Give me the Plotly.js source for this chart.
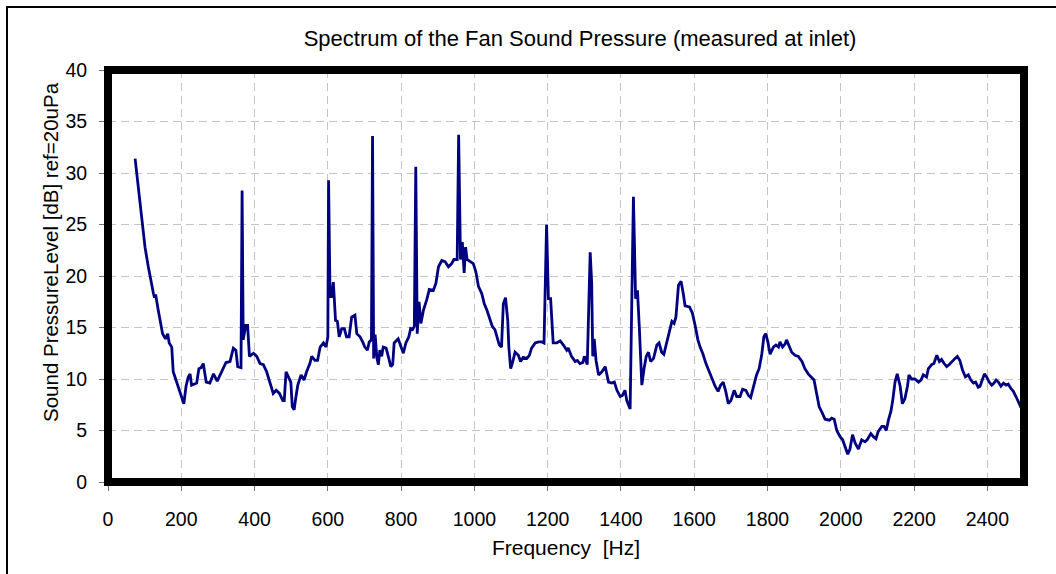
<!DOCTYPE html>
<html>
<head>
<meta charset="utf-8">
<script src="https://cdn.plot.ly/plotly-3.0.1.min.js"></script>
<style>
  html, body { margin: 0; padding: 0; background: #ffffff; }
  #chart { width: 1056px; height: 574px; }
</style>
</head>
<body>
<div id="chart"></div>
<script>
// Frequency [Hz]
var freq = [
  74, 83, 92, 101, 110, 116, 124, 127, 130, 137, 144, 149, 157, 163, 167, 174, 178, 188, 197, 207,
  213, 219, 224, 228, 242, 248, 254, 260, 268, 278, 288, 298, 310, 322, 333, 342, 349, 354, 363, 366,
  369, 376, 381, 386, 397, 406, 415, 424, 433, 442, 451, 459, 468, 477, 481, 486, 495, 499, 503, 508,
  513, 518, 527, 535, 542, 551, 556, 565, 572, 579, 588, 595, 600, 602, 606, 610, 615, 621, 626, 631,
  638, 645, 651, 658, 665, 674, 679, 688, 695, 701, 708, 713, 719, 722, 725, 729, 734, 738, 742, 747,
  751, 759, 765, 772, 777, 781, 792, 799, 806, 813, 821, 826, 831, 836, 840, 844, 849, 854, 861, 870,
  877, 888, 895, 902, 911, 920, 929, 938, 944, 953, 957, 962, 967, 972, 976, 980, 988, 997, 1004, 1011,
  1020, 1027, 1034, 1041, 1049, 1056, 1061, 1068, 1074, 1079, 1085, 1091, 1094, 1099, 1104, 1111, 1120, 1126, 1133, 1143,
  1150, 1156, 1166, 1175, 1184, 1190, 1197, 1202, 1208, 1215, 1225, 1234, 1243, 1252, 1256, 1265, 1275, 1281, 1288, 1296,
  1300, 1308, 1316, 1320, 1323, 1327, 1332, 1339, 1348, 1357, 1366, 1375, 1382, 1389, 1398, 1404, 1411, 1416, 1425, 1434,
  1440, 1445, 1450, 1457, 1463, 1469, 1475, 1481, 1489, 1498, 1504, 1511, 1517, 1525, 1532, 1539, 1545, 1550, 1557, 1564,
  1570, 1575, 1587, 1595, 1603, 1610, 1616, 1624, 1632, 1641, 1651, 1657, 1665, 1672, 1679, 1686, 1693, 1700, 1709, 1716,
  1725, 1732, 1741, 1748, 1754, 1761, 1770, 1777, 1784, 1790, 1795, 1801, 1807, 1816, 1823, 1830, 1834, 1841, 1848, 1852,
  1859, 1866, 1875, 1884, 1894, 1902, 1911, 1920, 1927, 1934, 1941, 1948, 1957, 1969, 1975, 1982, 1989, 1998, 2005, 2011,
  2019, 2025, 2032, 2039, 2048, 2057, 2066, 2072, 2082, 2089, 2096, 2102, 2112, 2118, 2124, 2130, 2137, 2142, 2148, 2154,
  2162, 2168, 2175, 2182, 2186, 2193, 2202, 2212, 2219, 2225, 2234, 2239, 2248, 2254, 2262, 2269, 2275, 2282, 2289, 2296,
  2305, 2312, 2318, 2325, 2332, 2340, 2348, 2355, 2362, 2368, 2375, 2380, 2386, 2392, 2398, 2405, 2412, 2418, 2424, 2430,
  2437, 2444, 2451, 2457, 2464, 2471, 2478, 2485, 2491, 2497, 2500
];
// Sound Pressure Level [dB] ref=20uPa
var spl = [
  31.4, 28.3, 25.8, 22.8, 20.9, 19.6, 18.3, 17.9, 18.2, 16.7, 15.4, 14.4, 13.9, 14.4, 13.5, 13.1, 10.7, 9.7, 8.8, 7.6,
  9.3, 10.2, 10.5, 9.4, 9.6, 11.0, 11.1, 11.5, 9.7, 9.6, 10.5, 9.8, 10.7, 11.6, 11.7, 13.0, 12.8, 11.2, 11.1, 28.3,
  13.8, 15.2, 15.2, 12.2, 12.5, 12.2, 11.5, 11.4, 10.7, 9.6, 8.6, 8.9, 8.6, 7.9, 7.9, 10.7, 10.1, 9.7, 7.3, 7.0,
  8.3, 9.4, 10.4, 9.9, 10.7, 11.5, 12.2, 11.8, 11.8, 13.1, 13.5, 13.1, 14.1, 29.3, 18.0, 18.0, 19.4, 15.7, 15.6, 14.1,
  14.9, 14.9, 14.1, 14.1, 16.0, 16.2, 14.4, 14.1, 13.6, 13.1, 12.8, 13.6, 13.8, 33.6, 12.0, 14.3, 12.0, 11.4, 12.8, 12.2,
  13.1, 13.0, 12.2, 11.2, 11.4, 13.5, 13.9, 13.1, 12.5, 13.5, 14.1, 14.9, 14.8, 15.1, 30.6, 14.4, 17.5, 15.4, 16.7, 17.7,
  18.7, 18.6, 19.3, 20.9, 21.5, 21.4, 20.9, 21.2, 21.6, 21.6, 33.7, 21.6, 23.3, 20.3, 22.8, 21.6, 21.4, 21.2, 20.4, 19.0,
  18.3, 17.3, 16.7, 15.9, 15.1, 14.8, 14.1, 13.3, 13.1, 17.3, 17.9, 15.7, 13.1, 11.0, 11.6, 12.6, 12.3, 11.7, 12.1, 12.0,
  12.3, 13.0, 13.5, 13.6, 13.6, 13.5, 25.0, 17.8, 17.8, 13.5, 13.5, 13.7, 13.3, 12.8, 13.0, 12.2, 11.7, 11.8, 11.5, 11.6,
  12.2, 11.4, 22.3, 19.4, 12.2, 13.9, 11.8, 10.4, 10.7, 11.2, 9.7, 9.6, 9.7, 8.9, 8.3, 8.4, 8.9, 7.9, 7.1, 27.7,
  17.8, 18.6, 15.1, 9.4, 11.0, 12.2, 12.6, 11.7, 12.0, 13.3, 13.5, 12.6, 12.4, 13.5, 14.6, 15.6, 15.4, 16.0, 19.1, 19.5,
  18.3, 17.1, 17.0, 16.4, 15.1, 13.8, 13.1, 12.4, 11.5, 10.7, 9.9, 9.3, 8.8, 9.4, 9.7, 8.8, 7.6, 7.9, 8.9, 8.3,
  8.3, 9.0, 8.9, 8.4, 8.2, 9.2, 10.4, 11.0, 12.3, 14.1, 14.4, 13.6, 12.4, 13.1, 13.3, 13.1, 13.6, 13.1, 13.4, 13.8,
  13.1, 12.6, 12.3, 12.2, 11.7, 11.0, 10.5, 10.1, 9.9, 8.6, 7.3, 6.8, 6.1, 6.0, 6.2, 6.1, 5.0, 4.4, 4.1, 3.5,
  2.7, 3.2, 4.6, 3.8, 3.2, 4.1, 3.9, 4.1, 4.7, 4.4, 4.2, 4.9, 5.4, 5.4, 5.0, 6.0, 6.9, 8.0, 9.7, 10.5,
  9.3, 7.6, 8.1, 9.3, 10.4, 10.0, 10.0, 9.7, 9.9, 10.4, 10.2, 11.0, 11.4, 11.5, 12.3, 11.7, 11.9, 11.5, 11.2, 11.4,
  11.8, 12.0, 12.2, 11.8, 10.9, 10.2, 10.4, 9.9, 9.6, 9.7, 9.2, 9.3, 9.9, 10.5, 10.2, 9.7, 9.4, 9.6, 9.9, 9.7,
  9.3, 9.6, 9.4, 9.5, 9.1, 8.8, 8.3, 7.8, 7.3, 7.1, 6.9
];

var xTickVals = [0, 200, 400, 600, 800, 1000, 1200, 1400, 1600, 1800, 2000, 2200, 2400];
var xTickText = ["0", "200", "400", "600", "800", "1000", "1200", "1400", "1600", "1800", "2000", "2200", "2400"];
var yTickVals = [0, 5, 10, 15, 20, 25, 30, 35, 40];
var yTickText = ["0", "5", "10", "15", "20", "25", "30", "35", "40"];

var chartTitle = "Spectrum of the Fan Sound Pressure (measured at inlet)";
var xTitle = "Frequency \u00a0[Hz]";
var yTitle = "Sound PressureLevel [dB] ref=20uPa";

var FONT = "Liberation Sans, Arial, Helvetica, sans-serif";

var trace = {
  x: freq,
  y: spl,
  type: "scatter",
  mode: "lines",
  line: { color: "#000080", width: 2.8 },
  hoverinfo: "x+y",
  showlegend: false
};

var layout = {
  width: 1056,
  height: 574,
  margin: { l: 108, r: 32, t: 70, b: 92, pad: 0 },
  paper_bgcolor: "#ffffff",
  plot_bgcolor: "#ffffff",
  font: { family: FONT, color: "#000000", size: 19 },
  showlegend: false,
  title: {
    text: chartTitle,
    font: { family: FONT, size: 22, color: "#000000" },
    x: 580 / 1056,
    xanchor: "center",
    xref: "container",
    y: 1 - 38 / 574,
    yanchor: "middle",
    yref: "container"
  },
  xaxis: {
    range: [0, 2500],
    tickmode: "array",
    tickvals: xTickVals,
    ticktext: xTickText,
    showgrid: true,
    gridcolor: "#c4c4c4",
    gridwidth: 1,
    griddash: "8px,5px",
    zeroline: false,
    showline: false,
    ticks: "outside",
    ticklen: 8,
    tickwidth: 1,
    tickcolor: "#707070",
    ticklabelstandoff: 12,
    tickfont: { family: FONT, size: 19.5, color: "#000000" },
    title: { text: xTitle, font: { family: FONT, size: 21, color: "#000000" }, standoff: 10 },
    automargin: false,
    fixedrange: true
  },
  yaxis: {
    range: [0, 40],
    tickmode: "array",
    tickvals: yTickVals,
    ticktext: yTickText,
    showgrid: true,
    gridcolor: "#c4c4c4",
    gridwidth: 1,
    griddash: "8px,5px",
    zeroline: false,
    showline: false,
    ticks: "outside",
    ticklen: 8,
    tickwidth: 1,
    tickcolor: "#707070",
    ticklabelstandoff: 8,
    tickfont: { family: FONT, size: 19.5, color: "#000000" },
    automargin: false,
    fixedrange: true
  },
  annotations: [
    {
      text: yTitle,
      xref: "paper", yref: "paper",
      x: (50 - 108) / 916, y: (482 - 252) / 412,
      xanchor: "center", yanchor: "middle",
      textangle: -90,
      showarrow: false,
      font: { family: FONT, size: 20.5, color: "#000000" }
    }
  ],
  shapes: [
    {
      type: "rect", xref: "paper", yref: "paper",
      x0: 0, x1: 1, y0: 0, y1: 1,
      line: { color: "#000000", width: 8 },
      layer: "above"
    },
    {
      type: "rect", xref: "paper", yref: "paper",
      x0: (7 - 108) / 916, x1: 1.5, y0: -1, y1: (482 - 7) / 412,
      line: { color: "#000000", width: 2 },
      layer: "above"
    }
  ]
};

Plotly.newPlot("chart", [trace], layout, { displayModeBar: false, staticPlot: false, responsive: false });
</script>
</body>
</html>
